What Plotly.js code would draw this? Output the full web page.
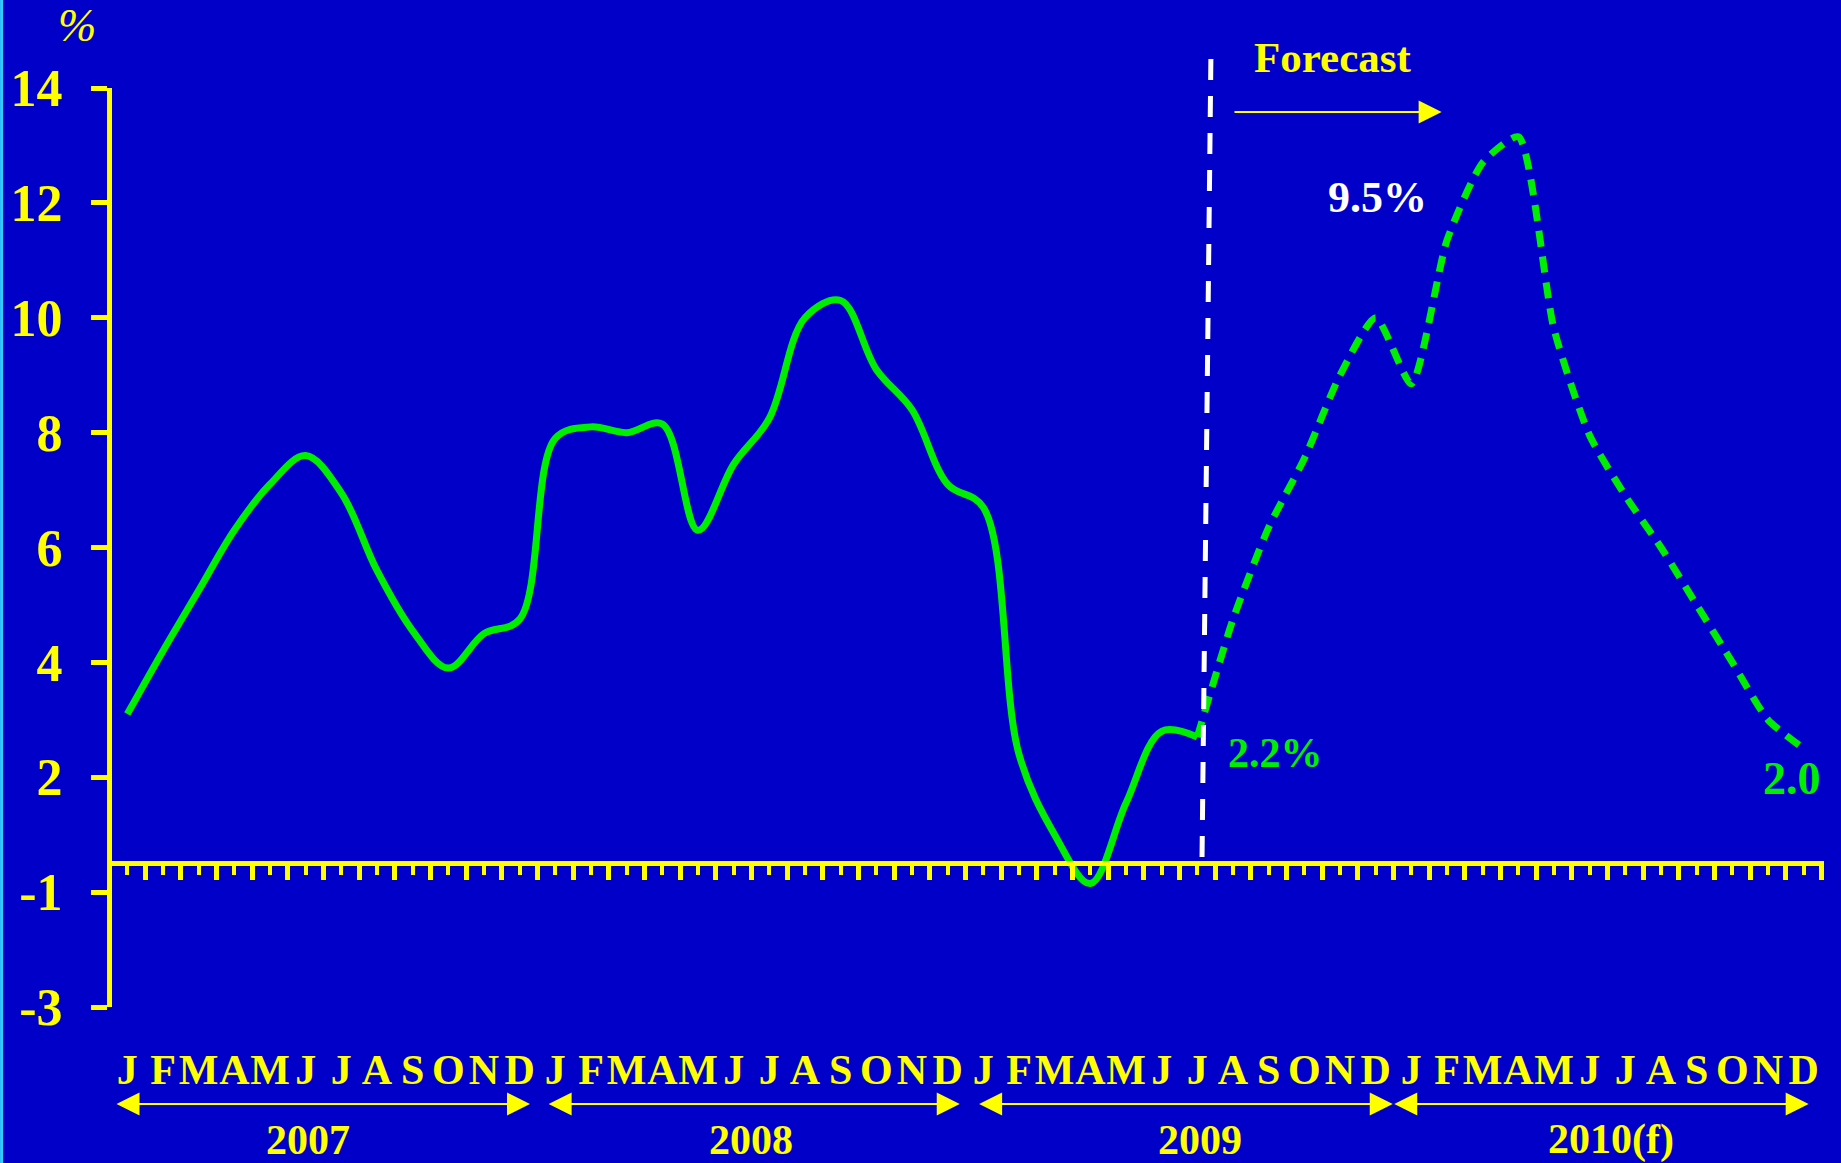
<!DOCTYPE html>
<html>
<head>
<meta charset="utf-8">
<script src="https://cdn.plot.ly/plotly-3.0.1.min.js"></script>
<style>
  html, body { margin: 0; padding: 0; background: #0000C8; }
  #chart { width: 1841px; height: 1163px; }
</style>
</head>
<body>
<div id="chart"></div>
<script>
// Month initials and year captions along the time axis
const monthLetters = ['J','F','M','A','M','J','J','A','S','O','N','D'];
const yearLabels = ['2007', '2008', '2009', '2010(f)'];

// Inflation, % y/y: outturn Jan 2007 – Jul 2009
const actual = [
  2.6, 3.7, 4.75, 5.8, 6.6, 7.1, 6.45, 5.1, 4.05, 3.4, 4.0, 4.25,
  7.4, 7.6, 7.5, 7.65, 5.8, 6.95, 7.75, 9.5, 9.8, 8.6, 7.9, 6.6,
  6.2, 1.9, 0.5, -0.35, 1.05, 2.3, 2.2
];

// Forecast path Jul 2009 – Dec 2010
const forecast = [
  2.2, 4.25, 5.85, 7.05, 8.5, 9.5,
  8.35, 10.85, 12.2, 12.65, 9.3, 7.45, 6.4, 5.5, 4.5, 3.5, 2.5, 2.0
];

// Left-axis captions, top to bottom
const yTickText = ['14', '12', '10', '8', '6', '4', '2', '-1', '-3'];

const YEL = '#FFFF00';
const GREEN = '#00EE00';
const BG = '#0000C8';
const SERIF = 'Liberation Serif, Times New Roman, serif';

const nMonths = monthLetters.length * yearLabels.length;
const monthIdx = Array.from({length: nMonths}, (_, k) => k);
const monthText = monthIdx.map(k => monthLetters[k % 12]);

const actualX = actual.map((_, k) => k);
const forecastStart = actual.length - 1;
const forecastX = forecast.map((_, k) => forecastStart + k);

const xRange = [-0.429, 47.57];
const yRange = [-2.5, 13.5];
const yTickVals = yTickText.map((_, k) => yRange[1] - 2 * k);
const zeroPos = (0 - yRange[0]) / (yRange[1] - yRange[0]);

const traces = [
  {
    x: actualX, y: actual, type: 'scatter', mode: 'lines',
    line: {color: GREEN, width: 7, shape: 'spline', smoothing: 1},
    xaxis: 'x', yaxis: 'y', hoverinfo: 'skip'
  },
  {
    x: forecastX, y: forecast, type: 'scatter', mode: 'lines',
    line: {color: GREEN, width: 7, dash: '16px,10px', shape: 'spline', smoothing: 0.6},
    xaxis: 'x2', yaxis: 'y', hoverinfo: 'skip'
  }
];

const boldFont = (size, color) => ({family: SERIF, size: size, color: color, weight: 'bold'});
const HEAD = 2.3;

const annotations = [
  {xref: 'paper', yref: 'paper', x: -0.0204, y: 1.068, xanchor: 'center', yanchor: 'middle',
   text: '%', showarrow: false,
   font: {family: SERIF, size: 46, color: YEL, style: 'italic'}},
  {xref: 'x', yref: 'paper', x: 33.78, y: 1.033, xanchor: 'center', yanchor: 'middle',
   text: 'Forecast', showarrow: false, font: boldFont(43, YEL)},
  {xref: 'x', yref: 'y', x: 36.85, y: 13.08, axref: 'x', ayref: 'y', ax: 31.0, ay: 13.08,
   text: '', showarrow: true, arrowhead: 2, arrowsize: HEAD, arrowwidth: 2,
   arrowcolor: YEL, standoff: 0},
  {xref: 'x', yref: 'y', x: 35.06, y: 11.6, showarrow: false,
   text: forecast[5].toFixed(1) + '%', font: boldFont(44, '#FFFFFF')},
  {xref: 'x', yref: 'y', x: 32.18, y: 1.93, showarrow: false,
   text: actual[actual.length - 1].toFixed(1) + '%', font: boldFont(42, GREEN)},
  {xref: 'x', yref: 'y', x: 46.66, y: 1.47, showarrow: false,
   text: forecast[forecast.length - 1].toFixed(1), font: boldFont(46, GREEN)}
];

// Double-headed year spans and year captions beneath the month initials
const spanEnds = [[-0.345, 11.29], [11.77, 23.34], [23.84, 35.48], [35.48, 47.14]];
const yearCentres = [5.07, 17.5, 30.07, 41.6];
yearLabels.forEach((label, k) => {
  annotations.push({
    xref: 'x', yref: 'paper', x: spanEnds[k][1], y: -0.1055,
    axref: 'x', ayref: 'pixel', ax: spanEnds[k][0], ay: 0,
    text: '', showarrow: true, arrowside: 'end+start',
    arrowhead: 2, startarrowhead: 2, arrowsize: HEAD, startarrowsize: HEAD,
    arrowwidth: 2, arrowcolor: YEL, standoff: 0, startstandoff: 0
  });
  annotations.push({
    xref: 'x', yref: 'paper', x: yearCentres[k], y: -0.1447,
    xanchor: 'center', yanchor: 'middle', text: label,
    showarrow: false, font: boldFont(42, YEL)
  });
});

const shapes = [
  // forecast boundary
  {type: 'line', xref: 'x', yref: 'paper', x0: 30.38, y0: 1.0316, x1: 30.13, y1: zeroPos,
   line: {color: '#FFFFFF', width: 5, dash: '21px,16px'}},
  // thin light frame on the left edge
  {type: 'line', xref: 'paper', yref: 'paper', x0: -0.0645, x1: -0.0645, y0: -0.2, y1: 1.2,
   line: {color: '#33CCFF', width: 3}}
];

const layout = {
  width: 1841, height: 1163,
  paper_bgcolor: BG, plot_bgcolor: BG,
  margin: {l: 112, r: 17, t: 88, b: 156, pad: 0},
  showlegend: false,
  hovermode: false,
  xaxis: {
    range: xRange, tickmode: 'array', tickvals: monthIdx, ticktext: monthText,
    tickangle: 0, ticks: '', showline: false, showgrid: false, zeroline: false,
    tickfont: boldFont(42, YEL), ticklabelstandoff: 34
  },
  xaxis2: {
    range: xRange, overlaying: 'x', anchor: 'free', position: zeroPos, side: 'bottom',
    showline: true, linecolor: YEL, linewidth: 5,
    tickmode: 'linear', tick0: 0.5, dtick: 1, ticks: 'outside',
    ticklen: 14, tickwidth: 5, tickcolor: YEL,
    minor: {ticks: 'outside', tick0: 0, dtick: 1, ticklen: 9, tickwidth: 4, tickcolor: YEL, showgrid: false},
    showticklabels: false, showgrid: false, zeroline: false
  },
  yaxis: {
    range: yRange, tickmode: 'array', tickvals: yTickVals, ticktext: yTickText,
    ticks: 'outside', ticklen: 16, tickwidth: 5, tickcolor: YEL,
    showline: true, linecolor: YEL, linewidth: 5,
    showgrid: false, zeroline: false,
    tickfont: boldFont(52, YEL), ticklabelstandoff: 18
  },
  annotations: annotations,
  shapes: shapes
};

Plotly.newPlot('chart', traces, layout, {staticPlot: true, displayModeBar: false});
</script>
</body>
</html>
